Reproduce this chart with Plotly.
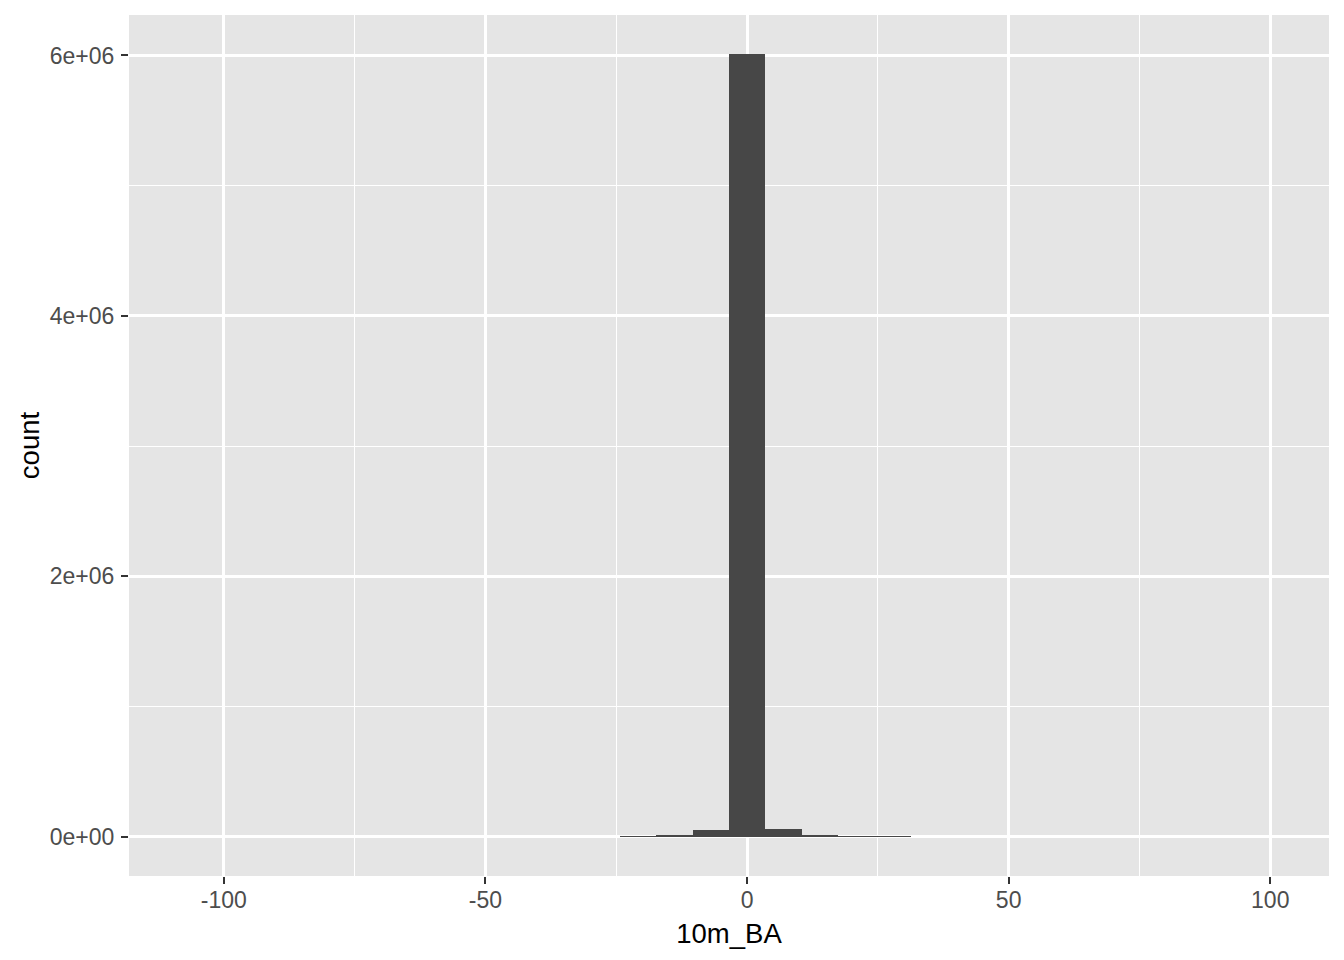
import plotly.graph_objects as go

# Histogram of 10m_BA (30 bins)
bin_edge_min = -107.7
bin_width = 6.95
counts = [0, 0, 0, 0, 0, 0, 0, 0, 0, 0, 0, 0, 1500, 7500, 50000,
          6010000,
          58000, 8500, 2200, 700, 0, 0, 0, 0, 0, 0, 0, 0, 0, 0]
centers = [bin_edge_min + bin_width * (i + 0.5) for i in range(len(counts))]

x_ticks = [-100, -50, 0, 50, 100]
x_ticklabels = ["-100", "-50", "0", "50", "100"]
y_ticks = [0, 2e6, 4e6, 6e6]
y_ticklabels = ["0e+00", "2e+06", "4e+06", "6e+06"]

edge_lo = bin_edge_min
edge_hi = bin_edge_min + bin_width * len(counts)
span = edge_hi - edge_lo
x_range = [edge_lo - 0.05 * span, edge_hi + 0.05 * span]
ymax = max(counts)
y_range = [-0.05 * ymax, 1.05 * ymax]

fig = go.Figure(go.Bar(
    x=centers, y=counts, width=[bin_width] * len(counts),
    marker=dict(color="#474747", line=dict(width=0)),
    hoverinfo="x+y",
))

font_family = "Liberation Sans, Arial, sans-serif"
fig.update_layout(
    width=1344, height=960,
    margin=dict(l=121, r=23, t=7, b=92),
    paper_bgcolor="white", plot_bgcolor="#E5E5E5",
    bargap=0, showlegend=False,
    font=dict(family=font_family, color="#4D4D4D", size=23),
)
fig.update_xaxes(
    range=x_range, tickvals=x_ticks, ticktext=x_ticklabels,
    ticks="outside", ticklen=7, tickwidth=2, tickcolor="#333333",
    tickfont=dict(size=23, color="#4D4D4D"),
    showgrid=True, gridcolor="white", gridwidth=2.5,
    minor=dict(tickvals=[-75, -25, 25, 75], showgrid=True, gridcolor="white", gridwidth=1.2, ticks=""),
    zeroline=False, showline=False, automargin=False,
    title=dict(text="10m_BA", font=dict(size=27.5, color="black"), standoff=12),
    ticklabelstandoff=-4,
)
fig.update_yaxes(
    range=y_range, tickvals=y_ticks, ticktext=y_ticklabels,
    ticks="outside", ticklen=7, tickwidth=2, tickcolor="#333333",
    tickfont=dict(size=23, color="#4D4D4D"),
    showgrid=True, gridcolor="white", gridwidth=2.5,
    minor=dict(tickvals=[1e6, 3e6, 5e6], showgrid=True, gridcolor="white", gridwidth=1.2, ticks=""),
    zeroline=False, showline=False, automargin=False,
    title=dict(text="count", font=dict(size=27.5, color="black"), standoff=2),
    ticklabelstandoff=2,
)

fig.write_html("out.html")
